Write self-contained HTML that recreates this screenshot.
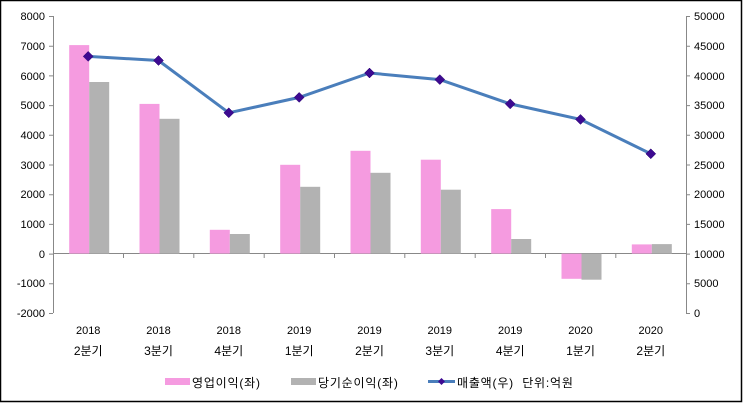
<!DOCTYPE html>
<html><head><meta charset="utf-8"><style>
html,body{margin:0;padding:0;background:#fff}
svg{display:block}
text{font-family:"Liberation Sans","Noto Sans CJK KR",sans-serif;font-size:11px;fill:#000}
.lg{font-size:12px;letter-spacing:0.8px;white-space:pre}
</style></head><body>
<svg width="743" height="403" viewBox="0 0 743 403">
<rect x="0.5" y="0.5" width="741" height="401" fill="#fff" stroke="#000" stroke-width="1.5"/>
<g stroke="#888" stroke-width="1" fill="none">
<line x1="53.5" y1="16" x2="53.5" y2="313"/>
<line x1="686.5" y1="16" x2="686.5" y2="313"/>
<line x1="53" y1="253.5" x2="686" y2="253.5"/>
<path d="M49 16.5H53M49 46.2H53M49 75.9H53M49 105.6H53M49 135.3H53M49 165H53M49 194.7H53M49 224.4H53M49 254.1H53M49 283.8H53M49 313.5H53"/>
<path d="M686 16.5H690M686 46.2H690M686 75.9H690M686 105.6H690M686 135.3H690M686 165H690M686 194.7H690M686 224.4H690M686 254.1H690M686 283.8H690M686 313.5H690"/>
<path d="M123.5 253V258M193.8 253V258M264.2 253V258M334.5 253V258M404.8 253V258M475.2 253V258M545.5 253V258M615.8 253V258"/>
</g>
<g text-anchor="end">
<text x="45" y="20">8000</text><text x="45" y="50">7000</text><text x="45" y="80">6000</text><text x="45" y="109">5000</text><text x="45" y="139">4000</text><text x="45" y="169">3000</text><text x="45" y="198">2000</text><text x="45" y="228">1000</text><text x="45" y="258">0</text><text x="45" y="287">-1000</text><text x="45" y="317">-2000</text>
</g>
<g>
<text x="694" y="20">50000</text><text x="694" y="50">45000</text><text x="694" y="80">40000</text><text x="694" y="109">35000</text><text x="694" y="139">30000</text><text x="694" y="169">25000</text><text x="694" y="198">20000</text><text x="694" y="228">15000</text><text x="694" y="258">10000</text><text x="694" y="287">5000</text><text x="694" y="317">0</text>
</g>
<g fill="#f59be0">
<rect x="69.2" y="45.1" width="20" height="208.5"/>
<rect x="139.5" y="103.9" width="20" height="149.7"/>
<rect x="209.8" y="229.8" width="20" height="23.8"/>
<rect x="280.2" y="164.8" width="20" height="88.8"/>
<rect x="350.5" y="150.8" width="20" height="102.8"/>
<rect x="420.8" y="159.7" width="20" height="93.9"/>
<rect x="491.2" y="209.1" width="20" height="44.5"/>
<rect x="561.5" y="253.6" width="20" height="25.2"/>
<rect x="631.8" y="244.4" width="20" height="9.2"/>
</g>
<g fill="#b2b2b2">
<rect x="89.2" y="82" width="20" height="171.6"/>
<rect x="159.5" y="118.8" width="20" height="134.8"/>
<rect x="229.8" y="234" width="20" height="19.6"/>
<rect x="300.2" y="186.8" width="20" height="66.8"/>
<rect x="370.5" y="172.8" width="20" height="80.8"/>
<rect x="440.8" y="189.7" width="20" height="63.9"/>
<rect x="511.2" y="239" width="20" height="14.6"/>
<rect x="581.5" y="253.6" width="20" height="26.1"/>
<rect x="651.8" y="244.1" width="20" height="9.5"/>
</g>
<polyline fill="none" stroke="#4a7ebb" stroke-width="3" points="88.2,56.4 158.5,60.5 228.8,112.8 299.2,97.4 369.5,73 439.8,79.6 510.2,103.9 580.5,119.4 650.8,153.8"/>
<g fill="#3d0a91" stroke="#2a0670" stroke-width="0.5">
<path d="M88.2 51.4l5 5-5 5-5-5z"/><path d="M158.5 55.5l5 5-5 5-5-5z"/><path d="M228.8 107.8l5 5-5 5-5-5z"/><path d="M299.2 92.4l5 5-5 5-5-5z"/><path d="M369.5 68l5 5-5 5-5-5z"/><path d="M439.8 74.6l5 5-5 5-5-5z"/><path d="M510.2 98.9l5 5-5 5-5-5z"/><path d="M580.5 114.4l5 5-5 5-5-5z"/><path d="M650.8 148.8l5 5-5 5-5-5z"/>
</g>
<g text-anchor="middle">
<text x="88.2" y="334">2018</text><text x="88.2" y="355" style="font-size:12px">2분기</text>
<text x="158.5" y="334">2018</text><text x="158.5" y="355" style="font-size:12px">3분기</text>
<text x="228.8" y="334">2018</text><text x="228.8" y="355" style="font-size:12px">4분기</text>
<text x="299.2" y="334">2019</text><text x="299.2" y="355" style="font-size:12px">1분기</text>
<text x="369.5" y="334">2019</text><text x="369.5" y="355" style="font-size:12px">2분기</text>
<text x="439.8" y="334">2019</text><text x="439.8" y="355" style="font-size:12px">3분기</text>
<text x="510.2" y="334">2019</text><text x="510.2" y="355" style="font-size:12px">4분기</text>
<text x="580.5" y="334">2020</text><text x="580.5" y="355" style="font-size:12px">1분기</text>
<text x="650.8" y="334">2020</text><text x="650.8" y="355" style="font-size:12px">2분기</text>
</g>
<rect x="165" y="378" width="25" height="7" fill="#f59be0"/>
<text x="192" y="387" class="lg">영업이익(좌)</text>
<rect x="291" y="378" width="25" height="7" fill="#b2b2b2"/>
<text x="318" y="387" class="lg">당기순이익(좌)</text>
<line x1="428" y1="381.5" x2="455" y2="381.5" stroke="#4a7ebb" stroke-width="3"/>
<path d="M441.5 378l3.5 3.5-3.5 3.5-3.5-3.5z" fill="#3d0a91"/>
<text x="457" y="387" class="lg">매출액(우)  단위:억원</text>
</svg>
</body></html>
